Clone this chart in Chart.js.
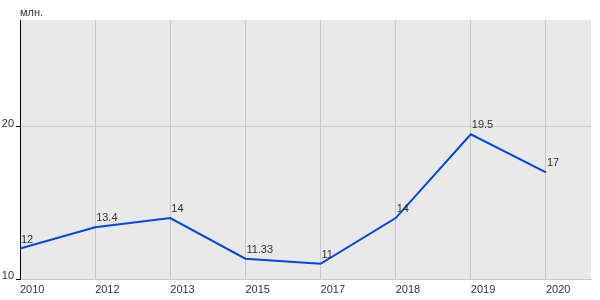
<!DOCTYPE html>
<html>
<head>
<meta charset="utf-8">
<script src="https://cdn.jsdelivr.net/npm/chart.js@4/dist/chart.umd.min.js"></script>
<style>
html,body{margin:0;padding:0;background:#fff;}
#wrap{width:600px;height:300px;}
</style>
</head>
<body>
<div id="wrap"><canvas id="c"></canvas></div>
<script>
const years = ["2010","2012","2013","2015","2017","2018","2019","2020"];
const values = [12, 13.4, 14, 11.33, 11, 14, 19.5, 17];
const valueLabels = ["12","13.4","14","11.33","11","14","19.5","17"];
const unitLabel = "млн.";

const FONT = "'Liberation Sans', Arial, sans-serif";

const bgPlugin = {
  id: 'bg',
  beforeDraw(chart) {
    const {ctx, chartArea: a} = chart;
    ctx.save();
    ctx.fillStyle = '#e9e9e9';
    ctx.fillRect(a.left, a.top, a.right - a.left, a.bottom - a.top);
    ctx.restore();
  }
};

const labelPlugin = {
  id: 'vlabels',
  afterDatasetsDraw(chart) {
    const {ctx, chartArea: a} = chart;
    const meta = chart.getDatasetMeta(0);
    ctx.save();
    ctx.font = '11px ' + FONT;
    ctx.fillStyle = '#333';
    ctx.textAlign = 'left';
    ctx.textBaseline = 'alphabetic';
    meta.data.forEach((pt, i) => {
      ctx.fillText(valueLabels[i], pt.x + 1, pt.y - 6);
    });
    ctx.textBaseline = 'middle';
    ctx.fillText(unitLabel, a.left, 13);
    ctx.restore();
  }
};

new Chart(document.getElementById('c'), {
  type: 'line',
  data: {
    datasets: [{
      data: values.map((v, i) => ({x: i, y: v})),
      borderColor: '#0046e6',
      borderWidth: 2,
      pointRadius: 0,
      tension: 0,
      fill: false
    }]
  },
  options: {
    responsive: true,
    maintainAspectRatio: false,
    animation: false,
    layout: {padding: {top: 20, right: 9, left: 0, bottom: 0}},
    plugins: {legend: {display: false}, tooltip: {enabled: false}},
    scales: {
      x: {
        type: 'linear',
        min: 0,
        max: 7.6,
        afterFit(s) { s.height = 21; },
        border: {color: '#c8c8c8', width: 1},
        grid: {color: '#c8c8c8', drawTicks: false},
        ticks: {
          stepSize: 1,
          includeBounds: false,
          autoSkip: false,
          maxRotation: 0,
          align: 'start',
          padding: 4,
          color: '#333',
          font: {family: FONT, size: 11},
          callback: (v) => Number.isInteger(v) ? years[v] : ''
        }
      },
      y: {
        type: 'linear',
        min: 10,
        max: 27,
        afterFit(s) { s.width = 20; },
        border: {color: '#000', width: 1},
        grid: {color: (c) => c.tick && c.tick.value === 10 ? 'rgba(0,0,0,0)' : '#c8c8c8', tickColor: '#000', tickLength: 4},
        ticks: {
          stepSize: 10,
          includeBounds: false,
          padding: 2,
          labelOffset: -3,
          color: '#333',
          font: {family: FONT, size: 11}
        }
      }
    }
  },
  plugins: [bgPlugin, labelPlugin]
});
</script>
</body>
</html>
